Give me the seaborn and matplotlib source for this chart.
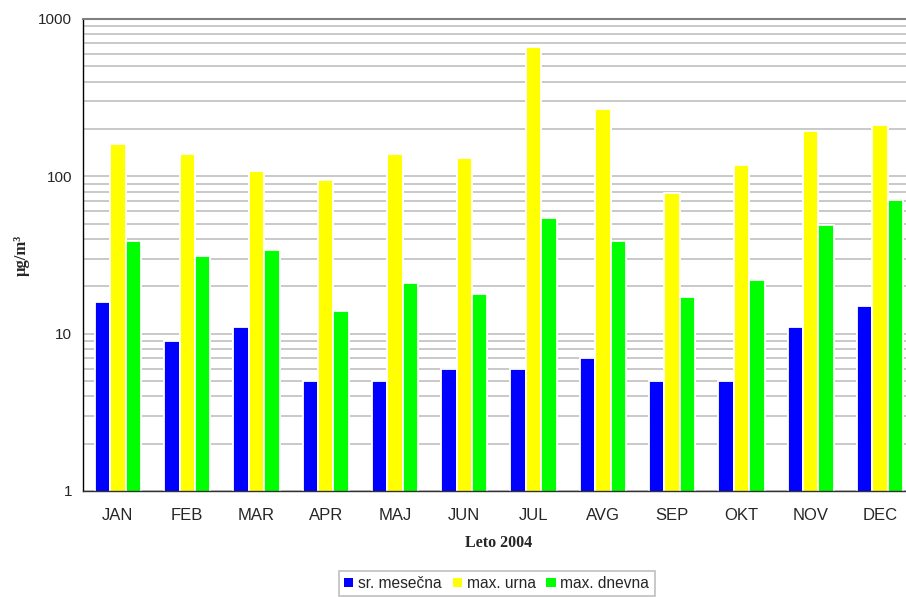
import numpy as np
import pandas as pd
import seaborn as sns
import matplotlib.pyplot as plt
from matplotlib.ticker import LogLocator, NullFormatter, FixedLocator
from matplotlib.patches import Patch

# Monthly values (µg/m3, log axis)
months = ['JAN', 'FEB', 'MAR', 'APR', 'MAJ', 'JUN', 'JUL', 'AVG', 'SEP', 'OKT', 'NOV', 'DEC']
sr_mesecna = [16, 9, 11, 5, 5, 6, 6, 7, 5, 5, 11, 15]
max_urna = [161, 139, 108, 95, 138, 131, 665, 268, 78, 118, 195, 212]
max_dnevna = [39, 31, 34, 14, 21, 18, 54, 39, 17, 22, 49, 71]
series = ['sr. mesečna', 'max. urna', 'max. dnevna']
colors = ['#0000ff', '#ffff00', '#00ff00']

df = pd.DataFrame({
    'month': months * 3,
    'series': np.repeat(series, len(months)),
    'value': sr_mesecna + max_urna + max_dnevna,
})

sns.set_style('white')
plt.rcParams['font.family'] = ['Liberation Sans', 'DejaVu Sans']

fig = plt.figure(figsize=(9.06, 5.97), dpi=100)
# axes extends a bit past the right edge, as in the reference
ax = fig.add_axes([83.3 / 906, 1 - 491 / 597, (914.6 - 83.3) / 906, (491 - 19) / 597])

sns.barplot(data=df, x='month', y='value', hue='series', palette=colors,
            width=0.667, saturation=1, edgecolor='white', linewidth=1.3,
            legend=False, ax=ax)

ax.set_yscale('log')
ax.set_ylim(1, 1000)
ax.set_xlim(-0.5, 11.5)

# grid: major + minor horizontal lines
ax.yaxis.set_major_locator(FixedLocator([1, 10, 100, 1000]))
ax.set_yticklabels(['1', '10', '100', '1000'])
ax.yaxis.set_minor_locator(LogLocator(base=10, subs=np.arange(2, 10)))
ax.yaxis.set_minor_formatter(NullFormatter())
ax.yaxis.grid(True, which='both', color='#c0c0c0', linewidth=1.2)
ax.xaxis.grid(False)
ax.set_axisbelow(True)

# x ticks: labels at centres, tick marks at category boundaries
ax.set_xticks(np.arange(-0.5, 12, 1), minor=True)
ax.tick_params(axis='x', which='major', length=0, pad=12, labelsize=12)
ax.tick_params(axis='x', which='minor', length=5, width=1, color='#404040', direction='out')
ax.tick_params(axis='y', which='major', length=5, width=1, color='black', direction='out',
               labelsize=11, pad=3)
ax.tick_params(axis='y', which='minor', length=0)

for side in ['top', 'right']:
    ax.spines[side].set_color('#808080')
    ax.spines[side].set_linewidth(1.5)
ax.spines['left'].set_color('black')
ax.spines['bottom'].set_color('#303030')
ax.spines['left'].set_linewidth(1)
ax.spines['bottom'].set_linewidth(1)

ax.set_xlabel('Leto 2004', fontsize=11.5, fontweight='bold', family='Liberation Serif')
ax.set_ylabel('µg/m³', fontsize=12, fontweight='bold', family='Liberation Serif')
ax.xaxis.set_label_coords(0.5, -0.093)
ax.yaxis.set_label_coords(-0.064, 0.5)

handles = [Patch(facecolor=c, edgecolor='none') for c in colors]
leg = fig.legend(handles, series, loc='center', bbox_to_anchor=(496.7 / 906, 1 - 583.5 / 597),
                 ncol=3, frameon=True, fancybox=False, edgecolor='#b0b0b0', fontsize=11.2,
                 handlelength=0.6, handleheight=0.6, handletextpad=0.3, columnspacing=0.7,
                 borderpad=0.35, borderaxespad=0)
leg.get_frame().set_linewidth(1.2)

fig.savefig('out.png', dpi=100)
